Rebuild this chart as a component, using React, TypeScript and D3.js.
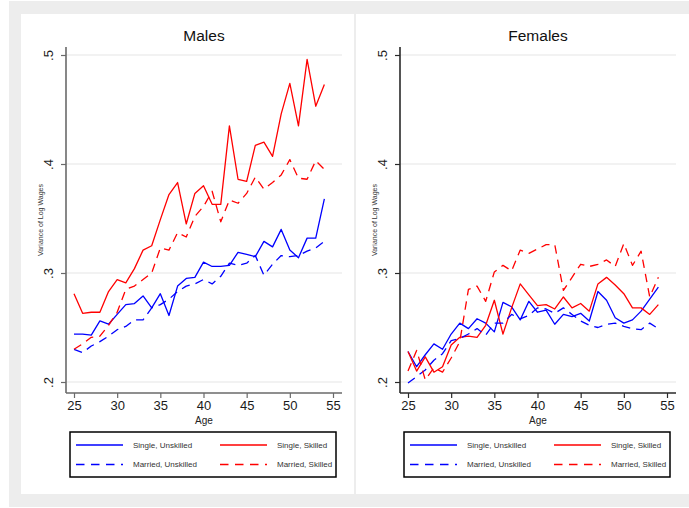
import React, { useRef, useEffect } from 'react';
import * as d3 from 'd3';

const ages = [25, 26, 27, 28, 29, 30, 31, 32, 33, 34, 35, 36, 37, 38, 39, 40, 41, 42, 43, 44, 45, 46, 47, 48, 49, 50, 51, 52, 53, 54];
const xTicks = [25, 30, 35, 40, 45, 50, 55];
const yTicks = [0.2, 0.3, 0.4, 0.5];

// Males
const maleSingleUnskilled = [0.244, 0.244, 0.243, 0.256, 0.253, 0.262, 0.271, 0.272, 0.279, 0.268, 0.281, 0.261, 0.288, 0.295, 0.296, 0.310, 0.306, 0.306, 0.307, 0.319, 0.317, 0.315, 0.329, 0.324, 0.340, 0.321, 0.314, 0.332, 0.332, 0.368];
const maleSingleSkilled = [0.281, 0.263, 0.264, 0.264, 0.283, 0.294, 0.291, 0.304, 0.321, 0.325, 0.349, 0.372, 0.383, 0.345, 0.373, 0.380, 0.363, 0.363, 0.435, 0.386, 0.384, 0.417, 0.420, 0.407, 0.446, 0.474, 0.435, 0.496, 0.453, 0.473];
const maleMarriedUnskilled = [0.230, 0.227, 0.233, 0.237, 0.242, 0.248, 0.251, 0.257, 0.257, 0.268, 0.271, 0.276, 0.283, 0.288, 0.290, 0.294, 0.290, 0.297, 0.309, 0.307, 0.309, 0.316, 0.298, 0.308, 0.316, 0.315, 0.316, 0.320, 0.323, 0.329];
const maleMarriedSkilled = [0.230, 0.235, 0.241, 0.242, 0.252, 0.264, 0.285, 0.288, 0.294, 0.300, 0.323, 0.321, 0.337, 0.333, 0.352, 0.361, 0.375, 0.347, 0.367, 0.364, 0.373, 0.388, 0.377, 0.383, 0.390, 0.404, 0.387, 0.386, 0.403, 0.395];

// Females
const femaleSingleUnskilled = [0.228, 0.214, 0.225, 0.235, 0.230, 0.244, 0.254, 0.249, 0.258, 0.254, 0.246, 0.273, 0.269, 0.257, 0.274, 0.264, 0.266, 0.253, 0.262, 0.260, 0.263, 0.256, 0.283, 0.275, 0.259, 0.254, 0.257, 0.265, 0.276, 0.287];
const femaleSingleSkilled = [0.228, 0.210, 0.223, 0.209, 0.214, 0.234, 0.241, 0.242, 0.241, 0.252, 0.275, 0.244, 0.268, 0.290, 0.280, 0.270, 0.271, 0.267, 0.278, 0.268, 0.272, 0.265, 0.290, 0.296, 0.289, 0.281, 0.268, 0.268, 0.262, 0.271];
const femaleMarriedUnskilled = [0.199, 0.205, 0.211, 0.220, 0.226, 0.238, 0.240, 0.244, 0.249, 0.243, 0.254, 0.254, 0.262, 0.258, 0.261, 0.268, 0.267, 0.263, 0.268, 0.262, 0.256, 0.252, 0.250, 0.253, 0.254, 0.251, 0.249, 0.248, 0.254, 0.249];
const femaleMarriedSkilled = [0.210, 0.229, 0.202, 0.213, 0.209, 0.222, 0.237, 0.285, 0.288, 0.274, 0.301, 0.307, 0.302, 0.321, 0.318, 0.322, 0.326, 0.326, 0.284, 0.296, 0.308, 0.306, 0.308, 0.312, 0.306, 0.327, 0.307, 0.320, 0.278, 0.296];

const seriesNames = ['Single, Unskilled', 'Single, Skilled', 'Married, Unskilled', 'Married, Skilled'];
const seriesColors = ['#0000ff', '#ff0000', '#0000ff', '#ff0000'];
const seriesDashed = [false, false, true, true];

const FONT = "'Liberation Sans', Arial, Helvetica, sans-serif";

const App: React.FC = () => {
  const svgRef = useRef<SVGSVGElement>(null);

  useEffect(() => {
    const svg = d3.select(svgRef.current);
    svg.selectAll('*').remove();

    // background frame
    svg.append('rect').attr('x', 9).attr('y', 1).attr('width', 680).attr('height', 506).attr('fill', '#ededed');

    const panels = [
      { title: 'Males', offset: 0, axisColor: '#6a6a6a', data: [maleSingleUnskilled, maleSingleSkilled, maleMarriedUnskilled, maleMarriedSkilled] },
      { title: 'Females', offset: 334, axisColor: '#2a2a2a', data: [femaleSingleUnskilled, femaleSingleSkilled, femaleMarriedUnskilled, femaleMarriedSkilled] },
    ];

    panels.forEach((p, pi) => {
      const g = svg.append('g').attr('transform', `translate(${p.offset},0)`);

      // white panel
      g.append('rect')
        .attr('x', pi === 0 ? 21 : 22)
        .attr('y', 14)
        .attr('width', 333)
        .attr('height', 480)
        .attr('fill', 'white');

      const left = 66, right = 342, top = 47, bottom = 393;
      const x = d3.scaleLinear().domain([25, 55]).range([74, 333]);
      const y = d3.scaleLinear().domain([0.2, 0.5]).range([382, 55]);

      // gridlines
      g.append('g')
        .selectAll('line')
        .data(yTicks)
        .enter().append('line')
        .attr('x1', left).attr('x2', right)
        .attr('y1', d => y(d)).attr('y2', d => y(d))
        .attr('stroke', '#e6e6e6')
        .attr('stroke-width', 1.2);

      // y axis
      const yAxis = g.append('g')
        .attr('transform', `translate(${left},0)`)
        .call(d3.axisLeft(y).tickValues(yTicks).tickSize(5).tickSizeOuter(0)
          .tickFormat(d => d3.format('.1f')(d as number).replace(/^0/, '')));
      yAxis.select('.domain').remove();
      yAxis.selectAll('line').attr('stroke', p.axisColor).attr('stroke-width', 1.2);
      yAxis.selectAll('text')
        .attr('transform', 'rotate(-90)')
        .attr('x', 0)
        .attr('y', -13)
        .attr('dy', 0)
        .attr('text-anchor', 'middle')
        .style('font-family', FONT)
        .style('font-size', '13px')
        .style('fill', '#1a1a1a');

      g.append('line')
        .attr('x1', left).attr('x2', left)
        .attr('y1', top).attr('y2', bottom)
        .attr('stroke', p.axisColor)
        .attr('stroke-width', 1.6);

      // x axis
      const xAxis = g.append('g')
        .attr('transform', `translate(0,${bottom})`)
        .call(d3.axisBottom(x).tickValues(xTicks).tickSize(5).tickSizeOuter(0).tickFormat(d3.format('d')));
      xAxis.select('.domain').remove();
      xAxis.selectAll('line').attr('stroke', p.axisColor).attr('stroke-width', 1.2);
      xAxis.selectAll('text')
        .attr('y', 8)
        .style('font-family', FONT)
        .style('font-size', '13px')
        .style('fill', '#1a1a1a');

      g.append('line')
        .attr('x1', left).attr('x2', right)
        .attr('y1', bottom).attr('y2', bottom)
        .attr('stroke', p.axisColor)
        .attr('stroke-width', 1.6);

      // lines
      const line = d3.line<number>()
        .x((_, i) => x(ages[i]))
        .y(d => y(d));

      p.data.forEach((vals, si) => {
        g.append('path')
          .datum(vals)
          .attr('fill', 'none')
          .attr('stroke', seriesColors[si])
          .attr('stroke-width', 1.3)
          .attr('stroke-linejoin', 'round')
          .attr('stroke-dasharray', seriesDashed[si] ? '8.5,6' : null)
          .attr('d', line);
      });

      // titles
      g.append('text')
        .attr('x', 204)
        .attr('y', 40.5)
        .attr('text-anchor', 'middle')
        .style('font-family', FONT)
        .style('font-size', '15.5px')
        .style('fill', '#111')
        .text(p.title);

      g.append('text')
        .attr('x', 204)
        .attr('y', 423.5)
        .attr('text-anchor', 'middle')
        .style('font-family', FONT)
        .style('font-size', '10px')
        .style('fill', '#222')
        .text('Age');

      g.append('text')
        .attr('transform', `translate(43,${(top + bottom) / 2}) rotate(-90)`)
        .attr('text-anchor', 'middle')
        .style('font-family', FONT)
        .style('font-size', '7px')
        .style('fill', '#333')
        .text('Variance of Log Wages');

      // legend
      const legend = g.append('g').attr('transform', 'translate(70,432)');
      legend.append('rect')
        .attr('x', 0).attr('y', 0)
        .attr('width', 266).attr('height', 45)
        .attr('fill', 'white')
        .attr('stroke', '#000')
        .attr('stroke-width', 1.5);

      seriesNames.forEach((name, si) => {
        const col = si % 2;
        const row = Math.floor(si / 2);
        const lx = col === 0 ? 6 : 150;
        const ly = row === 0 ? 13 : 32.5;
        legend.append('line')
          .attr('x1', lx).attr('x2', lx + 47)
          .attr('y1', ly).attr('y2', ly)
          .attr('stroke', seriesColors[si])
          .attr('stroke-width', 1.3)
          .attr('stroke-dasharray', seriesDashed[si] ? '8.5,6.5' : null);
        legend.append('text')
          .attr('x', lx + 57)
          .attr('y', ly)
          .attr('dy', '0.33em')
          .style('font-family', FONT)
          .style('font-size', '8px')
          .style('fill', '#333')
          .text(name);
      });
    });
  }, []);

  return (
    <svg
      ref={svgRef}
      width={689}
      height={508}
      style={{ position: 'absolute', left: 0, top: 0, background: 'white' }}
    />
  );
};

export default App;
